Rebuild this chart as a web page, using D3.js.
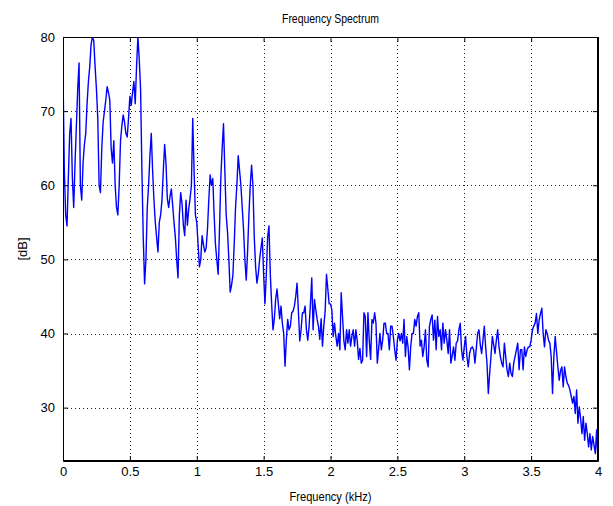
<!DOCTYPE html>
<html>
<head>
<meta charset="utf-8">
<script src="https://cdn.jsdelivr.net/npm/d3@7"></script>
<style>
  body { margin: 0; background: #fff; }
  text { font-family: "Liberation Sans", Arial, sans-serif; }
</style>
</head>
<body>
<div id="chart"></div>
<script>
// spectrum samples, one every 0.01 kHz (dB)
const freqStep = 0.01;
const band0 = [75, 62, 56, 54.5, 61, 67, 69, 61, 57, 63,
  68, 73, 76.5, 60, 58, 63, 65.5, 67, 71, 74,
  76, 79, 80, 79.5, 76, 73, 69, 60, 59, 65,
  68.5, 70, 71.5, 73.3, 72.5, 71.5, 65, 63, 66, 60,
  57, 56, 60, 66, 68, 69.5, 68.5, 67, 66.5, 69];
const band1 = [72, 70.8, 72.5, 74, 71, 76, 80, 77, 73, 62,
  53, 46.7, 50, 57, 60, 64, 67, 62, 58, 55,
  53, 51, 55, 56, 58, 62, 65.5, 63, 58.2, 57,
  58.5, 59.5, 57.3, 55, 53, 50, 47.5, 56, 59, 57.5,
  54.6, 53.2, 58, 54.6, 56.8, 58.2, 60, 69, 62, 56];
const band2 = [55, 52, 49, 50, 53.2, 52, 51, 51.5, 54, 58,
  61.4, 60, 60.9, 56, 52, 50, 48, 54, 61, 65,
  68.3, 62, 56, 53.7, 50, 45.6, 46.5, 47.8, 52, 57,
  60, 64, 62, 60, 57, 54, 50, 47.2, 51, 56,
  60, 62.7, 60, 53, 49, 46.8, 48, 50, 51.5, 52.9];
const band3 = [48, 44, 48, 53, 54.5, 48, 44, 40.5, 42, 44.6,
  46, 44, 42, 43.7, 41.4, 40, 35.6, 39.2, 41.9, 40.5,
  41, 42.8, 43, 43.7, 45, 46.8, 43, 39, 40.5, 42.8,
  42.8, 43.7, 40.5, 39.1, 41, 44, 47.5, 40.5, 44.6, 43.2,
  41.9, 41, 39.2, 42, 38.3, 41, 43, 48, 46, 44];
const band4 = [44, 43.2, 39.6, 41.4, 39.6, 38.3, 40, 37.8, 45.5, 42.3,
  39, 37.8, 40.5, 38.7, 40.5, 38.3, 39.6, 40.5, 38.3, 40.5,
  39, 36.5, 38, 36, 36.4, 42.8, 42.3, 36.9, 42.8, 39,
  36.5, 41.9, 41.4, 42.8, 41.4, 36, 38, 40, 37.8, 39.1,
  41.4, 41.4, 40, 40, 37.8, 41, 41, 39.6, 37.8, 36.4];
const band5 = [39.1, 40, 39, 40, 38.7, 41.9, 36.9, 39.6, 38.2, 35.1,
  38.3, 40, 40, 41.9, 41, 42.3, 42.8, 38.3, 39.1, 36.9,
  38.2, 40.5, 36.4, 35.5, 41, 41.9, 42.5, 39.1, 41.8, 37.8,
  42.3, 39.6, 40.5, 37.8, 41.4, 38.7, 40.5, 39.1, 37.3, 40.5,
  36, 37, 38.2, 36.4, 38.7, 39, 40.5, 41.4, 37.8, 36.4];
const band6 = [38.2, 39.6, 36.9, 35.5, 37.3, 38, 38.2, 37.8, 36, 38,
  40, 40.5, 38.5, 37.3, 39.1, 41, 38.2, 36, 31.9, 34.6,
  36.9, 39.6, 38.5, 37.3, 39.1, 40.5, 38.2, 36.9, 36, 35.5,
  38.7, 36.9, 35.1, 34.2, 36, 34.6, 34.2, 36, 36.9, 37.8,
  38.7, 35.1, 37.8, 37.8, 35.1, 38.2, 36.9, 37.8, 38.2, 38.2];
const band7 = [39.1, 40.5, 41, 41.4, 42.7, 40, 41.8, 42.7, 43.4, 40,
  38.2, 40.5, 40, 39.1, 38.7, 36.9, 31.9, 36.9, 39.6, 37.5,
  35.5, 33.7, 35, 35.5, 32.8, 35.5, 34.2, 33.3, 33, 32.4,
  31.5, 30.6, 31.5, 29.2, 32.4, 27.9, 30.1, 28.5, 26.5, 28.8,
  25.6, 27.9, 26.5, 24.7, 26.5, 24.3, 26.1, 25, 23.8, 27,
  22.9];

const xTicks = [0, 0.5, 1, 1.5, 2, 2.5, 3, 3.5, 4];
const yTicks = [30, 40, 50, 60, 70, 80];
const xDomain = [0, 4];
const yDomain = [22.8, 80];

class SpectrumChart {
  constructor(config) {
    this.config = config;
    this.config.margin = this.config.margin || {top: 37, right: 15, bottom: 45, left: 63};
    this.init();
  }

  init() {
    const c = this.config;
    this.w = c.width - c.margin.left - c.margin.right;
    this.h = c.height - c.margin.top - c.margin.bottom;

    this.svg = d3.select(c.parent)
      .append("svg")
      .attr("width", c.width)
      .attr("height", c.height);

    this.svg.append("defs").append("clipPath")
      .attr("id", "plotclip")
      .append("rect")
      .attr("width", this.w)
      .attr("height", this.h);

    this.chart = this.svg.append("g")
      .attr("transform", `translate(${c.margin.left}, ${c.margin.top})`);

    this.xscale = d3.scaleLinear().domain(xDomain).range([0, this.w]);
    this.yscale = d3.scaleLinear().domain(yDomain).range([this.h, 0]);

    this.line = d3.line()
      .x(d => this.xscale(d.x))
      .y(d => this.yscale(d.y));

    this.grid = this.chart.append("g");
    this.plot = this.chart.append("g").attr("clip-path", "url(#plotclip)");
    this.xaxis = this.chart.append("g").attr("transform", `translate(0, ${this.h})`);
    this.xaxisTop = this.chart.append("g");
    this.yaxis = this.chart.append("g");
    this.yaxisRight = this.chart.append("g").attr("transform", `translate(${this.w}, 0)`);
  }

  update(data) {
    this.data = data;
    this.render();
  }

  render() {
    const chart = this.chart;
    const x = this.xscale, y = this.yscale;

    // grid (dotted, matlab style)
    this.grid.selectAll("line.gx")
      .data(xTicks)
      .join("line")
      .attr("class", "gx")
      .attr("x1", d => Math.round(x(d)) + 0.5)
      .attr("x2", d => Math.round(x(d)) + 0.5)
      .attr("y1", 0)
      .attr("y2", this.h)
      .attr("stroke", "#222")
      .attr("stroke-dasharray", "1,3");

    this.grid.selectAll("line.gy")
      .data(yTicks)
      .join("line")
      .attr("class", "gy")
      .attr("x1", 0)
      .attr("x2", this.w)
      .attr("y1", d => Math.round(y(d)) + 0.5)
      .attr("y2", d => Math.round(y(d)) + 0.5)
      .attr("stroke", "#222")
      .attr("stroke-dasharray", "1,3");

    this.plot.selectAll("path.line")
      .data([this.data])
      .join("path")
      .attr("class", "line")
      .attr("d", this.line)
      .attr("fill", "none")
      .attr("stroke", "#0000ff")
      .attr("stroke-width", 1.4)
      .attr("stroke-linejoin", "round");

    const fmt = d => String(d);
    this.xaxis.call(d3.axisBottom(x).tickValues(xTicks).tickFormat(fmt)
      .tickSizeInner(-5).tickSizeOuter(0).tickPadding(6));
    this.xaxisTop.call(d3.axisTop(x).tickValues(xTicks).tickFormat("")
      .tickSizeInner(-5).tickSizeOuter(0));
    this.yaxis.call(d3.axisLeft(y).tickValues(yTicks).tickFormat(fmt)
      .tickSizeInner(-5).tickSizeOuter(0).tickPadding(8));
    this.yaxisRight.call(d3.axisRight(y).tickValues(yTicks).tickFormat("")
      .tickSizeInner(-5).tickSizeOuter(0));

    chart.selectAll(".tick text")
      .attr("font-size", 13)
      .attr("font-family", "Liberation Sans, Arial, sans-serif")
      .attr("fill", "#000");
    chart.selectAll(".domain").attr("stroke", "#000");

    chart.selectAll("rect.box")
      .data([0])
      .join("rect")
      .attr("class", "box")
      .attr("x", 0.5)
      .attr("y", 0.5)
      .attr("width", this.w - 1)
      .attr("height", this.h - 1)
      .attr("fill", "none")
      .attr("stroke", "#000");

    // labels (matlab's screen font is narrower than Liberation Sans)
    this.svg.selectAll("text.title")
      .data(["Frequency Spectrum"])
      .join("text")
      .attr("class", "title")
      .attr("x", this.config.margin.left + this.w / 2)
      .attr("y", 23)
      .attr("text-anchor", "middle")
      .attr("font-size", 13)
      .attr("textLength", 97)
      .attr("lengthAdjust", "spacingAndGlyphs")
      .text(d => d);

    this.svg.selectAll("text.xlabel")
      .data(["Frequency (kHz)"])
      .join("text")
      .attr("class", "xlabel")
      .attr("x", this.config.margin.left + this.w / 2)
      .attr("y", 501)
      .attr("text-anchor", "middle")
      .attr("font-size", 13)
      .attr("textLength", 82)
      .attr("lengthAdjust", "spacingAndGlyphs")
      .text(d => d);

    this.svg.selectAll("text.ylabel")
      .data(["[dB]"])
      .join("text")
      .attr("class", "ylabel")
      .attr("transform", `translate(27, ${this.config.margin.top + this.h / 2}) rotate(-90)`)
      .attr("text-anchor", "middle")
      .attr("font-size", 13)
      .text(d => d);
  }
}

const levels = [].concat(band0, band1, band2, band3, band4, band5, band6, band7);
const data = levels.map((v, i) => ({x: i * freqStep, y: v}));

const chart = new SpectrumChart({parent: "#chart", width: 613, height: 506});
chart.update(data);
</script>
</body>
</html>
